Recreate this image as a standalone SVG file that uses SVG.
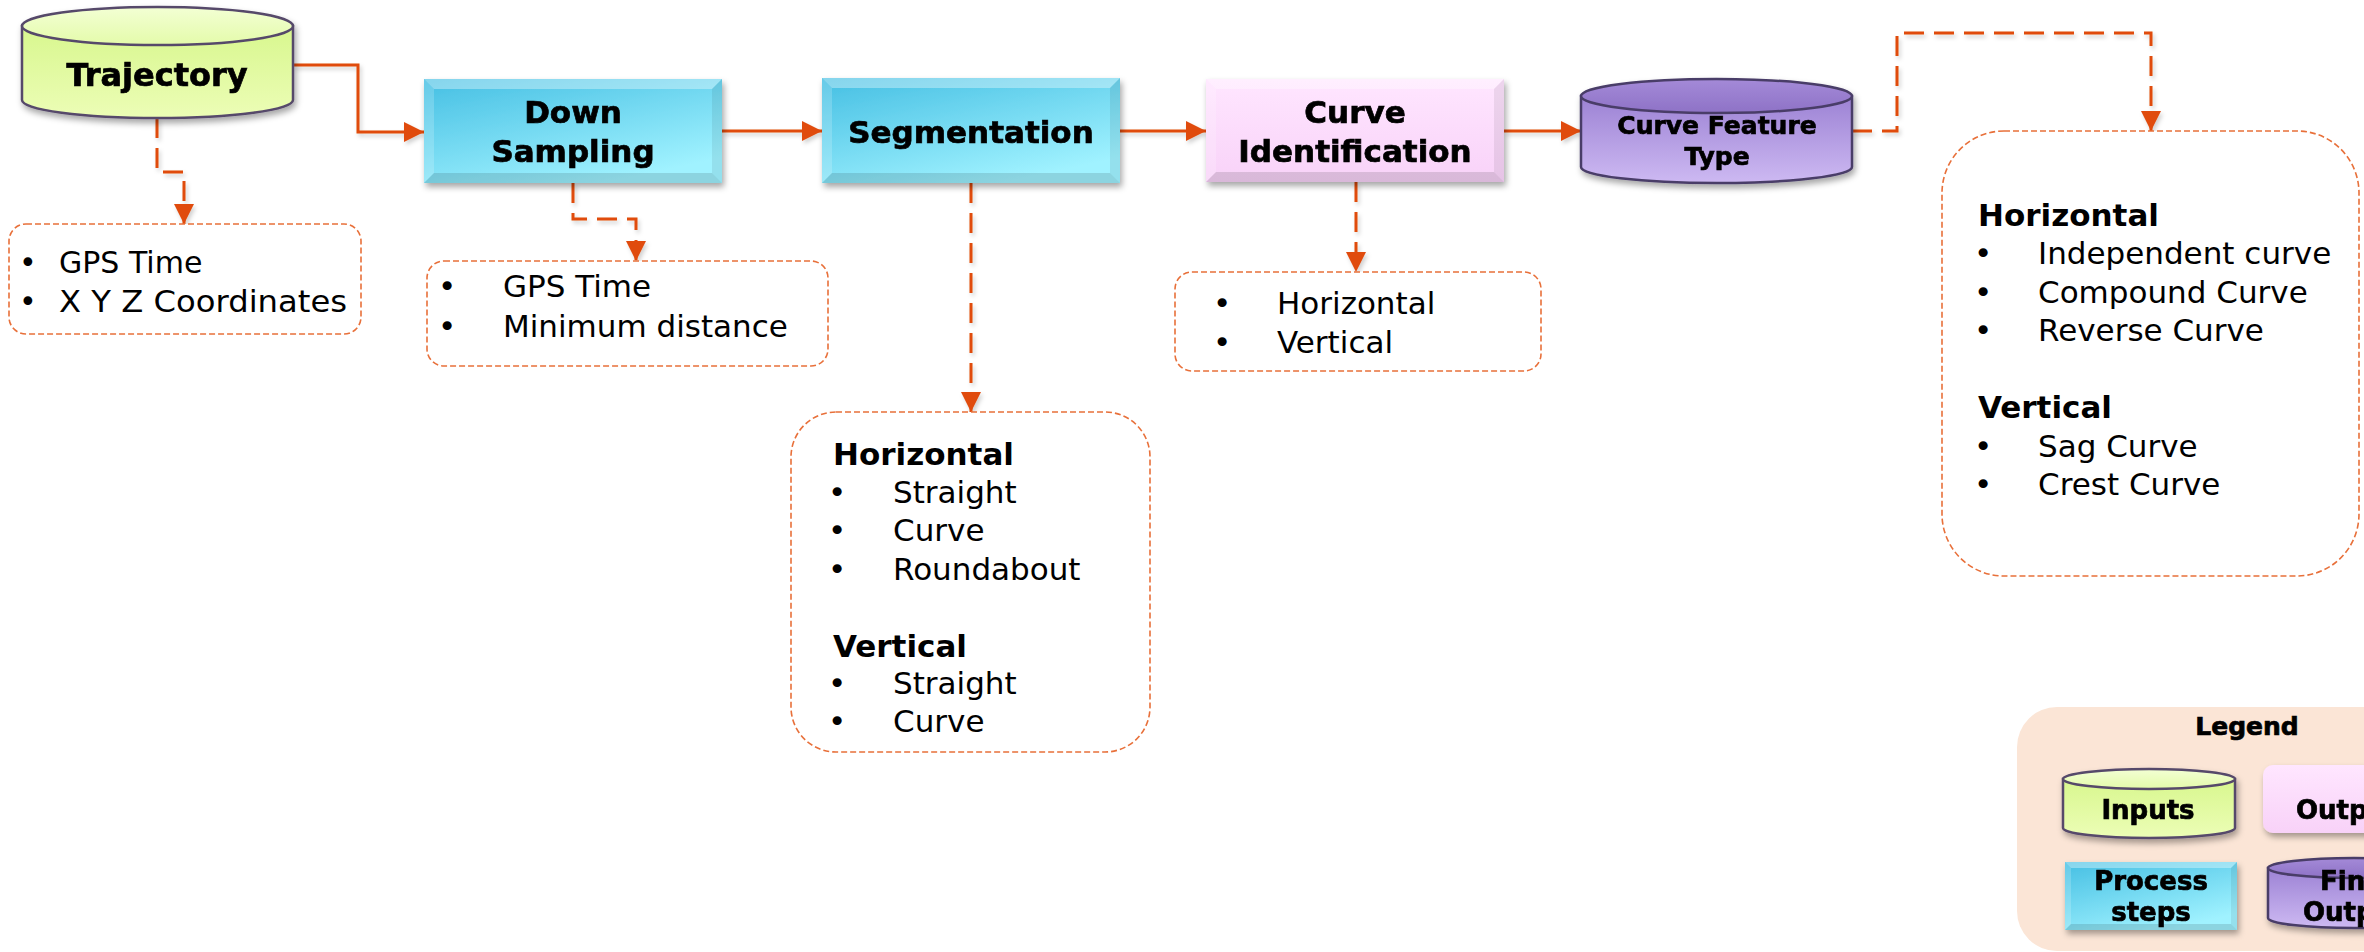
<svg xmlns="http://www.w3.org/2000/svg" width="2364" height="952" viewBox="0 0 2364 952">
<defs>
  <linearGradient id="gCyan" x1="0" y1="0" x2="0.6" y2="1">
    <stop offset="0" stop-color="#45BFE3"/>
    <stop offset="1" stop-color="#A0F2FF"/>
  </linearGradient>
  <linearGradient id="gPink" x1="0" y1="0" x2="0" y2="1">
    <stop offset="0" stop-color="#FFE6FF"/>
    <stop offset="1" stop-color="#F8D2F8"/>
  </linearGradient>
  <linearGradient id="gGreen" x1="0" y1="0" x2="0" y2="1">
    <stop offset="0" stop-color="#D8F78E"/>
    <stop offset="1" stop-color="#ECFDB6"/>
  </linearGradient>
  <linearGradient id="gGreenTop" x1="0" y1="0" x2="0" y2="1">
    <stop offset="0" stop-color="#F3FFD4"/>
    <stop offset="1" stop-color="#E4FBAA"/>
  </linearGradient>
  <linearGradient id="gPurple" x1="0" y1="0" x2="0" y2="1">
    <stop offset="0" stop-color="#9C82D4"/>
    <stop offset="1" stop-color="#CDB9F2"/>
  </linearGradient>
  <linearGradient id="gPurpleTop" x1="0" y1="0" x2="0" y2="1">
    <stop offset="0" stop-color="#A48AD8"/>
    <stop offset="1" stop-color="#8E72C6"/>
  </linearGradient>
  <filter id="shadow" x="-10%" y="-10%" width="130%" height="140%">
    <feDropShadow dx="2" dy="4" stdDeviation="3" flood-color="#000" flood-opacity="0.35"/>
  </filter>
  <filter id="lshadow" x="-10%" y="-10%" width="130%" height="130%">
    <feDropShadow dx="2" dy="3" stdDeviation="2" flood-color="#000" flood-opacity="0.18"/>
  </filter>
  <marker id="arr" markerUnits="userSpaceOnUse" markerWidth="24" markerHeight="24" viewBox="0 0 24 24" refX="22" refY="12" orient="auto">
    <path d="M2,2 L22,12 L2,22 Z" fill="#E04B0B"/>
  </marker>
  <style>
    .conn{fill:none;stroke:#E04B0B;stroke-width:3}
    .dash{stroke-dasharray:20,10}
    .note{fill:#fff;stroke:#E8703A;stroke-width:1.6;stroke-dasharray:6,3}
    .t{font-family:"DejaVu Sans","Verdana",sans-serif;fill:#000}
    .reg{font-size:31px}
    .b{font-weight:bold}
    .n{font-family:"DejaVu Sans","Verdana",sans-serif;font-weight:bold;fill:#000;stroke:#000;stroke-width:0.7;text-anchor:middle}
    .nb{stroke:#000;stroke-width:0.7}
    .cylG{stroke:#574A6B;stroke-width:2.5}
    .cylP{stroke:#4A3D68;stroke-width:2.5}
    .hi{fill:#fff;opacity:0.35}
    .hl{fill:#fff;opacity:0.18}
    .dr{fill:#000;opacity:0.07}
    .db{fill:#000;opacity:0.12}
  </style>
</defs>

<rect width="2364" height="952" fill="#fff"/>

<g id="connectors" filter="url(#lshadow)">
  <path class="conn" d="M293,65 H358 V132 H424" marker-end="url(#arr)"/>
  <path class="conn" d="M722,131 H822" marker-end="url(#arr)"/>
  <path class="conn" d="M1120,131 H1206" marker-end="url(#arr)"/>
  <path class="conn" d="M1504,131 H1581" marker-end="url(#arr)"/>
  <path class="conn dash" d="M157,118 V172 H184 V224" marker-end="url(#arr)"/>
  <path class="conn dash" d="M573,183 V219 H636 V261" marker-end="url(#arr)"/>
  <path class="conn dash" d="M971,183 V412" marker-end="url(#arr)"/>
  <path class="conn dash" d="M1356,182 V272" marker-end="url(#arr)"/>
  <path class="conn dash" d="M1852,131 H1897 V33 H2151 V131" marker-end="url(#arr)"/>
</g>

<g id="trajectory" filter="url(#shadow)">
  <path class="cylG" d="M22,26 V100 A135.5,18 0 0 0 293,100 V26 Z" fill="url(#gGreen)"/>
  <ellipse class="cylG" cx="157.5" cy="26" rx="135.5" ry="19" fill="url(#gGreenTop)"/>
  <text class="n" x="157" y="86" font-size="32">Trajectory</text>
</g>

<g id="down-sampling" filter="url(#shadow)">
  <rect x="424" y="79" width="298" height="104" fill="url(#gCyan)"/>
  <polygon class="hi" points="424,79 722,79 712,89 434,89"/>
  <polygon class="hl" points="424,79 434,89 434,173 424,183"/>
  <polygon class="dr" points="722,79 722,183 712,173 712,89"/>
  <polygon class="db" points="424,183 434,173 712,173 722,183"/>
  <text class="n" x="573" y="123" font-size="31">Down</text>
  <text class="n" x="573" y="162" font-size="31">Sampling</text>
</g>

<g id="segmentation" filter="url(#shadow)">
  <rect x="822" y="78" width="298" height="105" fill="url(#gCyan)"/>
  <polygon class="hi" points="822,78 1120,78 1110,88 832,88"/>
  <polygon class="hl" points="822,78 832,88 832,173 822,183"/>
  <polygon class="dr" points="1120,78 1120,183 1110,173 1110,88"/>
  <polygon class="db" points="822,183 832,173 1110,173 1120,183"/>
  <text class="n" x="971" y="143" font-size="31">Segmentation</text>
</g>

<g id="curve-identification" filter="url(#shadow)">
  <rect x="1206" y="79" width="298" height="103" fill="url(#gPink)"/>
  <polygon class="hi" points="1206,79 1504,79 1494,89 1216,89"/>
  <polygon class="hl" points="1206,79 1216,89 1216,172 1206,182"/>
  <polygon class="dr" points="1504,79 1504,182 1494,172 1494,89"/>
  <polygon class="db" points="1206,182 1216,172 1494,172 1504,182"/>
  <text class="n" x="1355" y="123" font-size="31">Curve</text>
  <text class="n" x="1355" y="162" font-size="31">Identification</text>
</g>

<g id="curve-feature-type" filter="url(#shadow)">
  <path class="cylP" d="M1581,96 V167 A135.5,16 0 0 0 1852,167 V96 Z" fill="url(#gPurple)"/>
  <ellipse class="cylP" cx="1716.5" cy="96" rx="135.5" ry="17" fill="url(#gPurpleTop)"/>
  <text class="n" x="1717" y="134" font-size="25">Curve Feature</text>
  <text class="n" x="1717" y="165" font-size="25">Type</text>
</g>

<g id="note-trajectory">
  <rect class="note" x="9" y="224" width="352" height="110" rx="17"/>
  <text class="t" font-size="30" x="19" y="273">•</text>
  <text class="t" font-size="30" x="59" y="273">GPS Time</text>
  <text class="t" font-size="30" x="19" y="312">•</text>
  <text class="t" font-size="30" x="59" y="312" textLength="288" lengthAdjust="spacingAndGlyphs">X Y Z Coordinates</text>
</g>

<g id="note-downsampling">
  <rect class="note" x="427" y="261" width="401" height="105" rx="17"/>
  <text class="t reg" x="438" y="297">•</text>
  <text class="t reg" x="503" y="297">GPS Time</text>
  <text class="t reg" x="438" y="337">•</text>
  <text class="t reg" x="503" y="337">Minimum distance</text>
</g>

<g id="note-segmentation">
  <rect class="note" x="791" y="412" width="359" height="340" rx="45"/>
  <text class="t reg b" x="833" y="465">Horizontal</text>
  <text class="t reg" x="828" y="503">•</text>
  <text class="t reg" x="893" y="503">Straight</text>
  <text class="t reg" x="828" y="541">•</text>
  <text class="t reg" x="893" y="541">Curve</text>
  <text class="t reg" x="828" y="580">•</text>
  <text class="t reg" x="893" y="580">Roundabout</text>
  <text class="t reg b" x="833" y="657">Vertical</text>
  <text class="t reg" x="828" y="694">•</text>
  <text class="t reg" x="893" y="694">Straight</text>
  <text class="t reg" x="828" y="732">•</text>
  <text class="t reg" x="893" y="732">Curve</text>
</g>

<g id="note-curveid">
  <rect class="note" x="1175" y="272" width="366" height="99" rx="17"/>
  <text class="t reg" x="1213" y="314">•</text>
  <text class="t reg" x="1277" y="314">Horizontal</text>
  <text class="t reg" x="1213" y="353">•</text>
  <text class="t reg" x="1277" y="353">Vertical</text>
</g>

<g id="note-curvetype">
  <rect class="note" x="1942" y="131" width="417" height="445" rx="62"/>
  <text class="t reg b" x="1978" y="226">Horizontal</text>
  <text class="t reg" x="1974" y="264">•</text>
  <text class="t reg" x="2038" y="264">Independent curve</text>
  <text class="t reg" x="1974" y="303">•</text>
  <text class="t reg" x="2038" y="303">Compound Curve</text>
  <text class="t reg" x="1974" y="341">•</text>
  <text class="t reg" x="2038" y="341">Reverse Curve</text>
  <text class="t reg b" x="1978" y="418">Vertical</text>
  <text class="t reg" x="1974" y="457">•</text>
  <text class="t reg" x="2038" y="457">Sag Curve</text>
  <text class="t reg" x="1974" y="495">•</text>
  <text class="t reg" x="2038" y="495">Crest Curve</text>
</g>

<g id="legend">
  <rect x="2017" y="707" width="420" height="244" rx="40" fill="#FBE5D6"/>
  <text class="n" x="2247" y="735" font-size="25">Legend</text>
  <g id="legend-inputs" filter="url(#shadow)">
    <path class="cylG" d="M2063,779 V828 A86,10 0 0 0 2235,828 V779 Z" fill="url(#gGreen)"/>
    <ellipse class="cylG" cx="2149" cy="779" rx="86" ry="10" fill="url(#gGreenTop)"/>
    <text class="n" x="2148" y="819" font-size="26">Inputs</text>
  </g>
  <g id="legend-outputs" filter="url(#shadow)">
    <rect x="2263" y="765" width="172" height="68" rx="10" fill="url(#gPink)"/>
    <text class="t b nb" font-size="26" x="2296" y="819">Outputs</text>
  </g>
  <g id="legend-process" filter="url(#shadow)">
    <rect x="2065" y="862" width="172" height="68" fill="url(#gCyan)"/>
    <polygon class="hi" points="2065,862 2237,862 2231,868 2071,868"/>
    <polygon class="hl" points="2065,862 2071,868 2071,924 2065,930"/>
    <polygon class="dr" points="2237,862 2237,930 2231,924 2231,868"/>
    <polygon class="db" points="2065,930 2071,924 2231,924 2237,930"/>
    <text class="n" x="2151" y="890" font-size="26">Process</text>
    <text class="n" x="2151" y="921" font-size="26">steps</text>
  </g>
  <g id="legend-final" filter="url(#shadow)">
    <path class="cylP" d="M2268,868 V918 A86,10 0 0 0 2440,918 V868 Z" fill="url(#gPurple)"/>
    <ellipse class="cylP" cx="2354" cy="868" rx="86" ry="10" fill="url(#gPurpleTop)"/>
    <text class="t b nb" font-size="26" x="2320" y="890">Final</text>
    <text class="t b nb" font-size="26" x="2303" y="921">Outputs</text>
  </g>
</g>
</svg>
